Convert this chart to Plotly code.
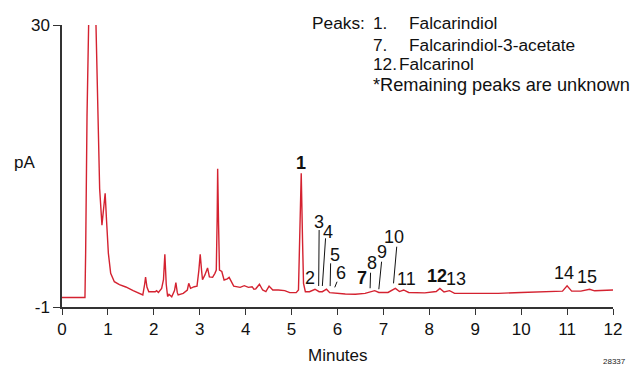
import plotly.graph_objects as go

# ---- data ----
time_min = [0.00, 0.50, 0.515, 0.53, 0.545, 0.58, 0.62, 0.66, 0.70, 0.74, 0.79, 0.82, 0.87, 0.91, 0.94, 0.97,
            1.01, 1.06, 1.14, 1.25, 1.39, 1.55, 1.67, 1.76, 1.80, 1.82, 1.85, 1.89, 2.03, 2.06, 2.10, 2.17,
            2.21, 2.24, 2.27, 2.30, 2.33, 2.36, 2.39, 2.45, 2.48, 2.51, 2.53, 2.64, 2.73, 2.76, 2.80, 2.88,
            2.94, 2.98, 3.01, 3.04, 3.06, 3.11, 3.17, 3.21, 3.28, 3.33, 3.36, 3.38, 3.39, 3.41, 3.43, 3.48,
            3.53, 3.60, 3.64, 3.74, 3.88, 3.97, 4.06, 4.14, 4.18, 4.22, 4.30, 4.37, 4.44, 4.51, 4.59, 4.71,
            4.85, 4.96, 5.10, 5.15, 5.18, 5.21, 5.24, 5.26, 5.30, 5.39, 5.51, 5.60, 5.67, 5.76, 5.83, 5.96,
            6.17, 6.39, 6.60, 6.81, 6.90, 7.10, 7.26, 7.35, 7.44, 7.55, 7.90, 8.15, 8.23, 8.32, 8.44, 8.55,
            9.00, 9.50, 10.00, 10.50, 10.90, 11.00, 11.10, 11.30, 11.49, 11.60, 12.00]
signal_pA = [0.05, 0.05, 5.0, 15.0, 20.0, 30.0, 45.0, 55.0, 45.0, 30.0, 17.0, 12.0, 8.0, 10.0, 11.5, 8.5,
             4.9, 2.7, 1.78, 1.45, 1.2, 0.8, 0.5, 0.32, 1.5, 2.3, 1.2, 0.68, 0.68, 0.8, 0.6, 1.05,
             2.0, 4.8, 1.5, 0.15, 0.4, 0.2, 0.13, 0.8, 1.67, 0.6, 0.32, 0.5, 0.87, 1.6, 1.05, 1.23,
             1.3, 3.0, 4.8, 3.0, 2.0, 2.5, 3.3, 2.3, 2.26, 2.7, 3.06, 9.0, 14.2, 8.0, 3.06, 2.9,
             1.97, 2.1, 2.26, 1.3, 1.16, 1.34, 1.16, 1.23, 0.95, 1.0, 1.5, 0.87, 0.7, 1.3, 0.87, 0.87,
             0.8, 0.58, 0.58, 0.87, 6.0, 13.7, 6.0, 1.6, 0.68, 0.68, 0.95, 0.68, 0.68, 0.95, 0.58, 0.5,
             0.43, 0.4, 0.5, 0.8, 0.6, 0.6, 1.05, 0.7, 0.87, 0.6, 0.55, 0.7, 1.05, 0.65, 0.8, 0.5,
             0.48, 0.5, 0.6, 0.68, 0.75, 1.34, 0.75, 0.75, 0.95, 0.78, 0.87]

x_ticks = list(range(0, 13))
y_ticks = [-1, 30]
y_tick_text = ["-1", "30"]

peak_names = ["1", "2", "3", "4", "5", "6", "7", "8", "9", "10", "11", "12", "13", "14", "15"]
bold_peaks = ["1", "7", "12"]

legend_lines = [("Peaks:", "1.", "Falcarindiol"),
                ("", "7.", "Falcarindiol-3-acetate"),
                ("", "12.", "Falcarinol")]
legend_note = "*Remaining peaks are unknown"

# ---- layout settings (positions) ----
W, H = 632, 366
L, R, T, B = 62, 10, 25, 59
FONT = "Arial, Liberation Sans, Helvetica, sans-serif"
RED = "#d42230"

label_pos = {"1": (5.21, 14.8), "2": (5.41, 2.15), "3": (5.60, 8.38), "4": (5.79, 7.28),
             "5": (5.94, 4.72), "6": (6.07, 2.77), "7": (6.54, 2.19), "8": (6.75, 3.84),
             "9": (6.96, 5.05), "10": (7.24, 6.7), "11": (7.51, 2.08), "12": (8.16, 2.41),
             "13": (8.59, 2.08), "14": (10.94, 2.77), "15": (11.44, 2.33)}
leaders = {"3": ((5.60, 7.46), (5.59, 1.31)), "4": ((5.74, 6.55), (5.67, 1.31)),
           "5": ((5.85, 3.80), (5.84, 1.30)), "6": ((5.99, 1.78), (5.94, 1.16)),
           "7": ((6.72, 2.77), (6.71, 1.06)), "9": ((6.96, 3.98), (6.90, 0.95)),
           "10": ((7.29, 5.63), (7.22, 1.60))}


def px(xp, yp):
    return (xp - L) / (W - L - R), (H - B - yp) / (H - T - B)


fig = go.Figure()
fig.add_trace(go.Scatter(x=time_min, y=signal_pA, mode="lines",
                         line=dict(color=RED, width=1.4), hoverinfo="skip"))

annotations = []
for name in peak_names:
    x, y = label_pos[name]
    txt = f"<b>{name}</b>" if name in bold_peaks else name
    annotations.append(dict(x=x, y=y, xref="x", yref="y", text=txt, showarrow=False,
                            font=dict(family=FONT, size=18, color="#111"),
                            xanchor="center", yanchor="middle"))

shapes = []
for name, ((x0, y0), (x1, y1)) in leaders.items():
    shapes.append(dict(type="line", xref="x", yref="y", x0=x0, y0=y0, x1=x1, y1=y1,
                       line=dict(color="#111", width=1)))

row_y = [23, 44.5, 64]
name_x = [413, 413, 402]
for (head, num, name), yp, nx in zip(legend_lines, row_y, name_x):
    for text, xp in ((head, 314), (num, 376), (name, nx)):
        if text:
            xx, yy = px(xp, yp)
            annotations.append(dict(x=xx, y=yy, xref="paper", yref="paper", text=text,
                                    showarrow=False, xanchor="left", yanchor="middle",
                                    font=dict(family=FONT, size=17.3, color="#111")))
xx, yy = px(376, 85.5)
annotations.append(dict(x=xx, y=yy, xref="paper", yref="paper", text=legend_note,
                        showarrow=False, xanchor="left", yanchor="middle",
                        font=dict(family=FONT, size=18.2, color="#111")))

xx, yy = px(24, 162)
annotations.append(dict(x=xx, y=yy, xref="paper", yref="paper", text="pA", showarrow=False,
                        xanchor="center", yanchor="middle",
                        font=dict(family=FONT, size=17, color="#111")))
xx, yy = px(342, 355)
annotations.append(dict(x=xx, y=yy, xref="paper", yref="paper", text="Minutes", showarrow=False,
                        xanchor="center", yanchor="middle",
                        font=dict(family=FONT, size=17, color="#111")))
xx, yy = px(610, 355)
annotations.append(dict(x=xx, y=yy, xref="paper", yref="paper", text="28337", showarrow=False,
                        xanchor="left", yanchor="top",
                        font=dict(family=FONT, size=8, color="#222")))

fig.update_layout(
    width=W, height=H, margin=dict(l=L, r=R, t=T, b=B),
    paper_bgcolor="white", plot_bgcolor="white", showlegend=False,
    annotations=annotations, shapes=shapes,
    xaxis=dict(range=[0, 12], tickvals=x_ticks, ticks="outside", ticklen=6, tickwidth=1.3,
               tickcolor="#333", showline=True, linecolor="#333", linewidth=1.5,
               showgrid=False, zeroline=False,
               tickfont=dict(family=FONT, size=17, color="#111")),
    yaxis=dict(range=[-1, 30], tickvals=y_ticks, ticktext=y_tick_text, ticks="outside",
               ticklen=7, tickwidth=1.3,
               tickcolor="#333", showline=True, linecolor="#333", linewidth=1.5,
               showgrid=False, zeroline=False,
               tickfont=dict(family=FONT, size=17, color="#111")),
)

fig.write_html("out.html", config={"displayModeBar": False},
               post_script="document.body.style.margin='0';document.body.style.overflow='hidden';")
